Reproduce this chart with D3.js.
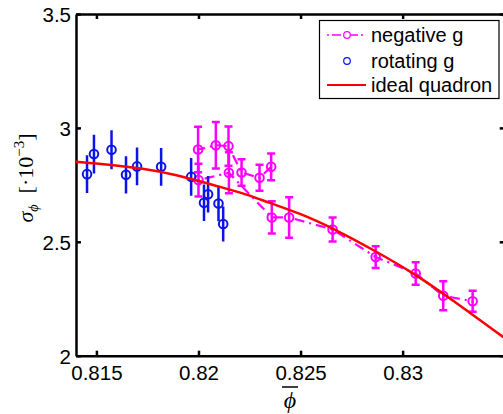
<html>
<script src='https://d3js.org/d3.v7.min.js'></script>
<style>
body {margin: 0; background: white;}
.axis path, .axis line {stroke: black; stroke-width: 2.5;}
.axis text {font: 20.5px 'Liberation Sans', Arial, sans-serif; fill: black;}
.legend text {font: 20px 'Liberation Sans', Arial, sans-serif; fill: black;}
</style>
<body>
<svg width=503 height=414></svg>
<script>
// negative g, in the order the dash-dot line joins them
var negPhi   = [0.82356, 0.82299, 0.82211, 0.82147, 0.82085, 0.81998, 0.82000, 0.82149, 0.82359, 0.82444, 0.82657, 0.82868, 0.83064, 0.83199, 0.83343];
var negSigma = [2.829, 2.781, 2.804, 2.920, 2.924, 2.905, 2.771, 2.803, 2.607, 2.607, 2.554, 2.433, 2.361, 2.263, 2.239];
var negErr   = [0.059, 0.057, 0.058, 0.086, 0.102, 0.100, 0.072, 0.090, 0.071, 0.089, 0.053, 0.048, 0.049, 0.064, 0.046];

// rotating g
var rotPhi   = [0.81454, 0.81488, 0.81574, 0.81645, 0.81699, 0.81817, 0.81964, 0.82027, 0.82047, 0.82098, 0.82121];
var rotSigma = [2.797, 2.885, 2.904, 2.794, 2.831, 2.829, 2.785, 2.671, 2.709, 2.668, 2.578];
var rotErr   = [0.083, 0.085, 0.086, 0.082, 0.083, 0.083, 0.083, 0.080, 0.080, 0.078, 0.077];

// ideal quadron curve
var quadPhi   = [0.8140, 0.81562, 0.81725, 0.81889, 0.82072, 0.82251, 0.82333, 0.82497, 0.8266, 0.82864, 0.83069, 0.83232, 0.8350];
var quadSigma = [2.851, 2.839, 2.822, 2.796, 2.749, 2.705, 2.675, 2.625, 2.559, 2.461, 2.354, 2.252, 2.077];

var xTicks = [0.815, 0.82, 0.825, 0.83];
var yTicks = [2, 2.5, 3, 3.5];
var legendLabels = ["negative g", "rotating g", "ideal quadron"];

var svg = d3.select("svg");
var pL = 76, pR = 504.7, pT = 14, pB = 355.7;

var x = d3.scaleLinear().domain([0.814, 0.835]).range([pL, pR]);
var y = d3.scaleLinear().domain([2, 3.5]).range([pB, pT]);

var fmt = function(d) { return String(+d.toFixed(3)); };

svg.append("defs").append("clipPath").attr("id", "plot")
    .append("rect").attr("x", pL).attr("y", pT)
    .attr("width", pR - pL).attr("height", pB - pT);

// axes, ticks pointing inward
var xAx = svg.append("g").attr("class", "axis")
    .attr("transform", "translate(0," + pB + ")")
    .call(d3.axisBottom(x).tickValues(xTicks).tickFormat(fmt)
        .tickSizeInner(-5).tickSizeOuter(0));
xAx.selectAll(".tick text").attr("y", 24).attr("dy", null);
svg.append("g").attr("class", "axis")
    .attr("transform", "translate(0," + pT + ")")
    .call(d3.axisTop(x).tickValues(xTicks).tickFormat("")
        .tickSizeInner(-5).tickSizeOuter(0));
var yAx = svg.append("g").attr("class", "axis")
    .attr("transform", "translate(" + pL + ",0)")
    .call(d3.axisLeft(y).tickValues(yTicks).tickFormat(fmt)
        .tickSizeInner(-5).tickSizeOuter(0));
yAx.selectAll(".tick text").attr("x", -5).attr("dy", "0.36em");
svg.append("g").attr("class", "axis")
    .attr("transform", "translate(" + pR + ",0)")
    .call(d3.axisRight(y).tickValues(yTicks).tickFormat("")
        .tickSizeInner(-5).tickSizeOuter(0));

var plot = svg.append("g").attr("clip-path", "url(#plot)");

// negative g
var negData = negPhi.map(function(d, i) { return {x: d, y: negSigma[i], e: negErr[i]}; });
var magenta = "#ff00ff";
plot.append("path")
    .datum(negData)
    .attr("fill", "none").attr("stroke", magenta).attr("stroke-width", 2.2)
    .attr("stroke-dasharray", "10,5,2,5")
    .attr("d", d3.line().x(function(d) { return x(d.x); }).y(function(d) { return y(d.y); }));
var ng = plot.append("g").attr("stroke", magenta).attr("stroke-width", 2.5).attr("fill", "none");
ng.selectAll("line.bar").data(negData).enter().append("line")
    .attr("x1", function(d) { return x(d.x); }).attr("x2", function(d) { return x(d.x); })
    .attr("y1", function(d) { return y(d.y - d.e); }).attr("y2", function(d) { return y(d.y + d.e); });
ng.selectAll("line.top").data(negData).enter().append("line")
    .attr("x1", function(d) { return x(d.x) - 4; }).attr("x2", function(d) { return x(d.x) + 4; })
    .attr("y1", function(d) { return y(d.y + d.e); }).attr("y2", function(d) { return y(d.y + d.e); });
ng.selectAll("line.bot").data(negData).enter().append("line")
    .attr("x1", function(d) { return x(d.x) - 4; }).attr("x2", function(d) { return x(d.x) + 4; })
    .attr("y1", function(d) { return y(d.y - d.e); }).attr("y2", function(d) { return y(d.y - d.e); });
ng.selectAll("circle").data(negData).enter().append("circle")
    .attr("cx", function(d) { return x(d.x); }).attr("cy", function(d) { return y(d.y); })
    .attr("r", 4.3).attr("stroke-width", 2);

// rotating g
var rotData = rotPhi.map(function(d, i) { return {x: d, y: rotSigma[i], e: rotErr[i]}; });
var blue = "#0a14e6";
var rg = plot.append("g").attr("stroke", blue).attr("stroke-width", 2.5).attr("fill", "none");
rg.selectAll("line").data(rotData).enter().append("line")
    .attr("x1", function(d) { return x(d.x); }).attr("x2", function(d) { return x(d.x); })
    .attr("y1", function(d) { return y(d.y - d.e); }).attr("y2", function(d) { return y(d.y + d.e); });
rg.selectAll("circle").data(rotData).enter().append("circle")
    .attr("cx", function(d) { return x(d.x); }).attr("cy", function(d) { return y(d.y); })
    .attr("r", 4.3).attr("stroke-width", 2);

// ideal quadron
plot.append("path")
    .datum(quadPhi.map(function(d, i) { return [d, quadSigma[i]]; }))
    .attr("fill", "none").attr("stroke", "#ff0000").attr("stroke-width", 2.5)
    .attr("d", d3.line().curve(d3.curveBasis)
        .x(function(d) { return x(d[0]); }).y(function(d) { return y(d[1]); }));

// legend
var lg = svg.append("g").attr("class", "legend");
lg.append("rect").attr("x", 319.5).attr("y", 20.5).attr("width", 179.5).attr("height", 78)
    .attr("fill", "white").attr("stroke", "black").attr("stroke-width", 1.2);
var rowY = [35, 61, 85];
lg.selectAll("text").data(legendLabels).enter().append("text")
    .attr("x", 371).attr("y", function(d, i) { return rowY[i]; })
    .attr("dy", "0.36em")
    .text(function(d) { return d; });
lg.append("line").attr("x1", 327).attr("x2", 366).attr("y1", rowY[0]).attr("y2", rowY[0])
    .attr("stroke", magenta).attr("stroke-width", 1.5).attr("stroke-dasharray", "2,3,9,3");
lg.append("circle").attr("cx", 347).attr("cy", rowY[0]).attr("r", 3.3)
    .attr("fill", "white").attr("stroke", magenta).attr("stroke-width", 1.2);
lg.append("circle").attr("cx", 347).attr("cy", rowY[1]).attr("r", 3.3)
    .attr("fill", "none").attr("stroke", blue).attr("stroke-width", 1.2);
lg.append("line").attr("x1", 327).attr("x2", 366).attr("y1", rowY[2]).attr("y2", rowY[2])
    .attr("stroke", "#ff0000").attr("stroke-width", 2);

// axis titles
var yl = svg.append("text")
    .attr("transform", "translate(33,178) rotate(-90)")
    .attr("text-anchor", "middle")
    .style("font-family", "'Liberation Serif', 'DejaVu Serif', serif")
    .style("font-size", "22px");
yl.append("tspan").style("font-style", "italic").text("σ");
yl.append("tspan").style("font-style", "italic").style("font-size", "14px").attr("dy", 5).text("ϕ");
yl.append("tspan").attr("dy", -5).text("\u2002[·10");
yl.append("tspan").style("font-size", "15px").attr("dy", -9).text("−3");
yl.append("tspan").attr("dy", 9).text("]");

svg.append("text")
    .attr("x", 290).attr("y", 408)
    .attr("text-anchor", "middle")
    .style("font-family", "'Liberation Serif', 'DejaVu Serif', serif")
    .style("font-size", "24px").style("font-style", "italic")
    .text("ϕ");
svg.append("line").attr("x1", 282).attr("x2", 298).attr("y1", 387).attr("y2", 387)
    .attr("stroke", "black").attr("stroke-width", 1.5);
</script>
</body>
</html>
